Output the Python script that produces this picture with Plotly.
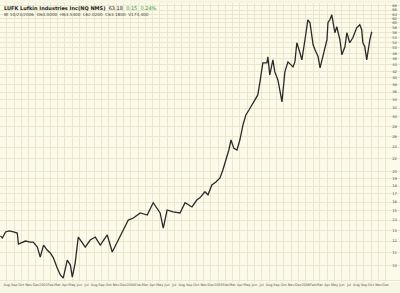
import plotly.graph_objects as go
import math

dates = ["2002-07-06","2002-07-14","2002-07-27","2002-08-12","2002-08-29","2002-09-14","2002-09-19","2002-09-27",
"2002-10-18","2002-11-08","2002-11-20","2002-12-07","2002-12-19","2003-01-02","2003-01-17","2003-01-30",
"2003-02-12","2003-02-28","2003-03-13","2003-03-25","2003-04-11","2003-04-24","2003-05-02","2003-05-14",
"2003-05-27","2003-06-13","2003-06-25","2003-07-16","2003-08-06","2003-08-27","2003-09-25","2003-10-16",
"2003-11-10","2003-12-01","2003-12-22","2004-01-12","2004-02-10","2004-03-10","2004-04-04","2004-05-03",
"2004-05-16","2004-06-01","2004-06-26","2004-07-25","2004-08-15","2004-09-13","2004-10-04","2004-10-16",
"2004-11-06","2004-11-19","2004-12-05","2004-12-22","2005-01-08","2005-01-20","2005-02-02","2005-02-14",
"2005-02-23","2005-03-07","2005-03-20","2005-04-01","2005-04-14","2005-04-26","2005-05-09","2005-05-21",
"2005-06-03","2005-06-15","2005-06-24","2005-07-06","2005-07-23","2005-07-27","2005-08-04","2005-08-13",
"2005-08-17","2005-08-25","2005-09-07","2005-09-24","2005-10-06","2005-10-19","2005-11-09","2005-11-17",
"2005-11-25","2005-12-08","2005-12-16","2005-12-29","2006-01-10","2006-01-19","2006-02-01","2006-02-09",
"2006-02-22","2006-03-02","2006-03-15","2006-03-31","2006-04-04","2006-04-12","2006-04-20","2006-04-25",
"2006-05-03","2006-05-11","2006-05-24","2006-06-01","2006-06-14","2006-06-22","2006-07-04","2006-07-17",
"2006-08-02","2006-08-15","2006-08-23","2006-08-28","2006-09-05","2006-09-13","2006-09-18","2006-09-26",
"2006-10-04"]

close = [12.45,12.27,12.83,12.93,12.83,12.73,11.74,11.83,
12.00,11.91,11.91,11.48,10.66,11.65,11.23,10.99,
10.60,9.83,9.34,9.13,10.43,10.05,9.20,10.20,
12.36,11.83,11.48,12.09,12.36,11.65,12.55,11.07,
12.09,13.02,14.01,14.22,14.76,14.54,15.92,14.76,
13.21,15.09,14.87,14.76,15.92,15.43,16.27,16.51,
17.26,16.88,18.15,18.55,19.12,20.27,21.82,23.49,
25.29,23.77,23.49,25.29,28.26,30.43,31.56,32.75,
33.99,35.27,38.81,44.68,44.68,46.73,40.88,44.02,
45.70,41.80,39.39,33.50,41.80,45.01,43.37,45.01,
51.82,48.13,45.70,52.99,61.40,60.07,51.07,49.20,
46.73,43.05,47.43,52.99,60.07,61.40,63.70,60.07,
55.80,58.33,52.99,47.43,50.31,55.80,51.82,53.78,
57.90,59.19,57.06,51.82,50.31,45.70,48.49,52.99,
56.22]

price_ticks = [9,10,11,12,13,14,15,16,17,18,19,20,22,24,26,28,30,32,34,36,38,40,42,44,46,48,50,52,54,56,58,60,62,64,66,68]

months = ["Jan","Feb","Mar","Apr","May","Jun","Jul","Aug","Sep","Oct","Nov","Dec"]
month_vals, month_text = [], []
for yr in range(2002, 2008):
    for m in range(1, 13):
        if (yr == 2002 and m < 8) or (yr == 2007 and m > 1):
            continue
        month_vals.append(f"{yr}-{m:02d}-01")
        month_text.append(str(yr) if m == 1 else months[m-1])

header_title = "LUFK Lufkin Industries Inc(NQ NMS)"
header_last = "63.18"
header_change = "0.15  0.24%"
header_line2 = "Bt 10/23/2006  O63.0000  H63.5400  L62.0200  C63.1800  V174,400"

fig = go.Figure()
fig.add_trace(go.Scatter(x=dates, y=close, mode="lines",
                         line=dict(color="#2a2a2a", width=1.3), showlegend=False))

fig.update_layout(
    width=400, height=293,
    margin=dict(l=0, r=0, t=3, b=11),
    paper_bgcolor="#f7f5e3",
    plot_bgcolor="#fcfbeb",
    font=dict(family="DejaVu Sans", size=5, color="#555"),
    xaxis=dict(range=["2002-07-04", "2007-01-30"], tickvals=month_vals, ticktext=month_text,
               tickangle=0, showgrid=True, gridcolor="#ebe7cd", gridwidth=1,
               zeroline=False, showline=False, ticks="", tickfont=dict(size=3.4, color="#555")),
    yaxis=dict(type="log", range=[math.log10(8.87), math.log10(69.5)], side="right",
               ticklabelposition="inside", tickvals=price_ticks,
               ticktext=[str(v) for v in price_ticks],
               showgrid=True, gridcolor="#ebe7cd", gridwidth=1, zeroline=False,
               ticks="", tickfont=dict(size=3.8, color="#555")),
)

fig.add_annotation(xref="paper", yref="paper", x=0.005, y=1.0, xanchor="left", yanchor="top",
                   showarrow=False,
                   text=f"<b>{header_title}</b>  {header_last}  <span style='color:#2a9a2a'>{header_change}</span>",
                   font=dict(size=5, color="#222"))
fig.add_annotation(xref="paper", yref="paper", x=0.005, y=0.975, xanchor="left", yanchor="top",
                   showarrow=False, text=header_line2, font=dict(size=4.2, color="#444"))

fig.write_html("out.html")
